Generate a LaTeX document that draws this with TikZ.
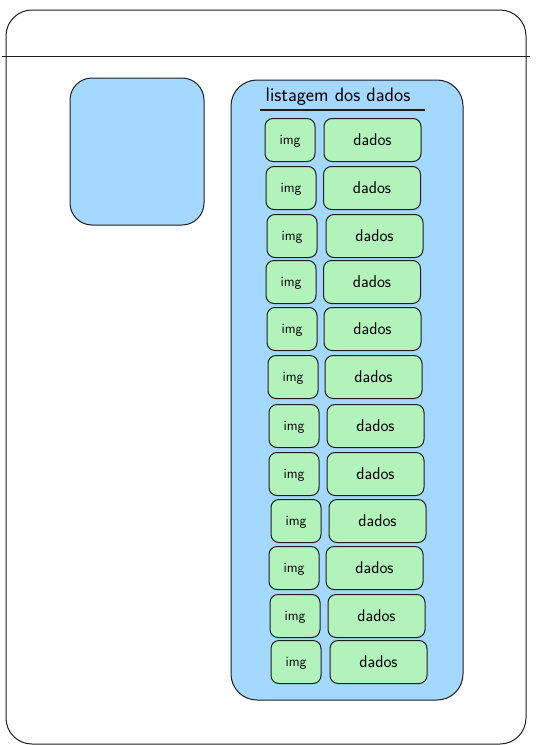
\documentclass[tikz,border=0pt]{standalone}
\usepackage{tikz}

\definecolor{panelblue}{HTML}{A5D8FF}
\definecolor{rowgreen}{HTML}{B2F2BB}
\definecolor{ink}{HTML}{1E1E1E}

\begin{document}
\begin{tikzpicture}[x=1pt,y=-1pt]
\tikzstyle{every node}+=[inner sep=0pt,font=\sffamily]
\tikzstyle{imgbox}=[draw=ink,line width=1pt,fill=rowgreen,rounded corners=8pt,minimum width=50pt,minimum height=43pt,text depth=0pt,font=\sffamily\fontsize{14}{16}\selectfont]
\tikzstyle{databox}=[draw=ink,line width=1pt,fill=rowgreen,rounded corners=8pt,minimum width=97pt,minimum height=43pt,text depth=0pt,font=\sffamily\fontsize{17}{20}\selectfont]
\useasboundingbox (0,0) rectangle (543,745);
% frame
\draw [ink,line width=1pt,rounded corners=26pt] (6,10) rectangle (526,744);
\draw [ink,line width=1pt] (2,56) -- (530,56);
% side box and list panel
\node (side) [draw=ink,line width=1pt,fill=panelblue,rounded corners=22pt,minimum width=134pt,minimum height=147pt] at (137,151.5) {};
\node (list) [draw=ink,line width=1pt,fill=panelblue,rounded corners=26pt,minimum width=232pt,minimum height=620pt] at (347,390) {};
\draw (338,97) node (title) {\fontsize{19.5}{22}\selectfont listagem dos dados};
\draw [ink,line width=1.2pt] (260,110) -- (425,110);
% rows
\node (img1) [imgbox] at (290,140) {img};
\node (dat1) [databox] at (372.5,140) {dados};
\node (img2) [imgbox] at (291,188) {img};
\node (dat2) [databox] at (372,188) {dados};
\node (img3) [imgbox] at (292,236) {img};
\node (dat3) [databox] at (374.5,236) {dados};
\node (img4) [imgbox] at (291,282) {img};
\node (dat4) [databox] at (372,282) {dados};
\node (img5) [imgbox] at (292,329) {img};
\node (dat5) [databox] at (372.5,329) {dados};
\node (img6) [imgbox] at (293,377) {img};
\node (dat6) [databox] at (373.5,377) {dados};
\node (img7) [imgbox] at (294,426) {img};
\node (dat7) [databox] at (375.5,426) {dados};
\node (img8) [imgbox] at (294,474) {img};
\node (dat8) [databox] at (375.5,474) {dados};
\node (img9) [imgbox] at (296,521) {img};
\node (dat9) [databox] at (377.5,521) {dados};
\node (img10) [imgbox] at (294,568) {img};
\node (dat10) [databox] at (374.5,568) {dados};
\node (img11) [imgbox] at (295,616) {img};
\node (dat11) [databox] at (376.5,616) {dados};
\node (img12) [imgbox] at (296,662) {img};
\node (dat12) [databox] at (378.5,662) {dados};
\end{tikzpicture}
\end{document}
